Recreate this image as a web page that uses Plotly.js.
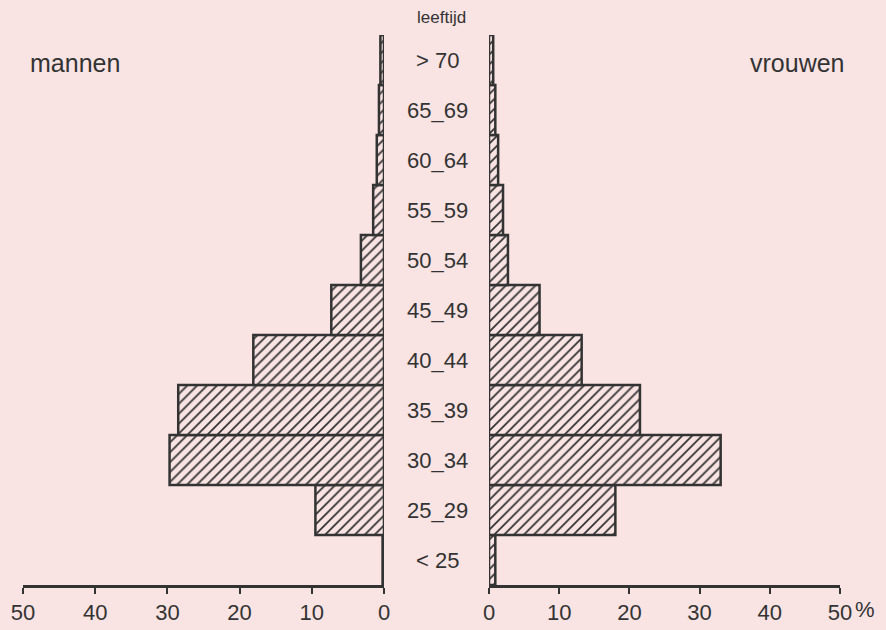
<!DOCTYPE html>
<html>
<head>
<meta charset="utf-8">
<script src="https://cdn.plot.ly/plotly-3.0.1.min.js"></script>
<style>html,body{margin:0;padding:0;background:#f9e3e3;}#chart{width:886px;height:630px;}</style>
</head>
<body>
<div id="chart"></div>
<script>
// Age groups, bottom to top
const ageGroups = ["<25", "25-29", "30-34", "35-39", "40-44", "45-49", "50-54", "55-59", "60-64", "65-69", ">70"];
const ageLabels = ["< 25", "25_29", "30_34", "35_39", "40_44", "45_49", "50_54", "55_59", "60_64", "65_69", "> 70"];
// Percentages
const mannen  = [0.2, 9.5, 29.7, 28.5, 18.1, 7.3, 3.2, 1.5, 1.0, 0.7, 0.5];
const vrouwen = [0.9, 18.0, 33.0, 21.5, 13.2, 7.2, 2.7, 2.0, 1.3, 0.9, 0.6];
const tickVals = [0, 10, 20, 30, 40, 50];
const tickText = ["0", "10", "20", "30", "40", "50"];

const ink = "#333333";
const bg = "#f9e3e3";
const W = 886, H = 630, T = 35, B = 45;
const px = v => v / W;
const py = v => (H - B - v) / (H - T - B);
const fam = "Liberation Sans, Arial, sans-serif";

const barStyle = {
  color: bg,
  line: {color: ink, width: 2.5},
  pattern: {shape: "/", fgcolor: ink, bgcolor: bg, size: 7, solidity: 0.25}
};

const traces = [
  {type: "bar", orientation: "h", name: "mannen", y: ageGroups, x: mannen,
   xaxis: "x", yaxis: "y", marker: barStyle, hoverinfo: "x+y"},
  {type: "bar", orientation: "h", name: "vrouwen", y: ageGroups, x: vrouwen,
   xaxis: "x2", yaxis: "y", marker: barStyle, hoverinfo: "x+y"}
];

const axisCommon = {
  showgrid: false, zeroline: false, showline: true, autorange: false,
  linecolor: ink, linewidth: 2.5, ticks: "outside", ticklen: 6, tickwidth: 2,
  tickcolor: ink, tickvals: tickVals, ticktext: tickText, ticklabelstandoff: 0,
  tickfont: {family: fam, size: 22, color: ink},
  fixedrange: true
};

const annotations = ageGroups.map((g, i) => ({
  xref: "paper", yref: "y", x: px(437), y: g, text: ageLabels[i],
  showarrow: false, xanchor: "center", yanchor: "middle",
  font: {family: fam, size: 22, color: ink}
}));
annotations.push(
  {xref: "paper", yref: "paper", x: px(75), y: py(63), text: "mannen", showarrow: false,
   xanchor: "center", yanchor: "middle", font: {family: fam, size: 25, color: ink}},
  {xref: "paper", yref: "paper", x: px(797), y: py(63), text: "vrouwen", showarrow: false,
   xanchor: "center", yanchor: "middle", font: {family: fam, size: 25, color: ink}},
  {xref: "paper", yref: "paper", x: px(441), y: py(17), text: "leeftijd", showarrow: false,
   xanchor: "center", yanchor: "middle", font: {family: fam, size: 17, color: ink}},
  {xref: "paper", yref: "paper", x: px(865), y: py(609), text: "%", showarrow: false,
   xanchor: "center", yanchor: "middle", font: {family: fam, size: 22, color: ink}}
);

const layout = {
  width: W, height: H,
  margin: {l: 0, r: 0, t: T, b: B},
  paper_bgcolor: bg, plot_bgcolor: bg,
  showlegend: false, barmode: "overlay", bargap: 0,
  xaxis: Object.assign({}, axisCommon, {domain: [px(23), px(384)], range: [50, 0], anchor: "y"}),
  xaxis2: Object.assign({}, axisCommon, {domain: [px(489), px(840)], range: [0, 50], anchor: "y"}),
  yaxis: {type: "category", categoryorder: "array", categoryarray: ageGroups,
          range: [-0.5, 10.5], autorange: false, showticklabels: false, showgrid: false, zeroline: false,
          showline: false, ticks: "", fixedrange: true},
  annotations: annotations
};

Plotly.newPlot("chart", traces, layout, {displayModeBar: false, staticPlot: true});
</script>
</body>
</html>
